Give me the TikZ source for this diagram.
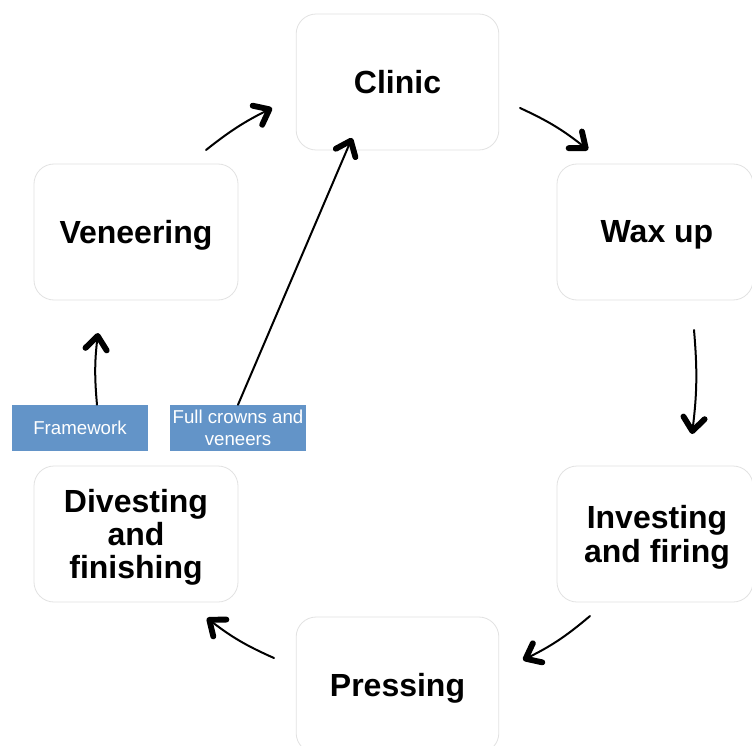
\documentclass[tikz,border=0pt]{standalone}
\usepackage{fontspec}
\setmainfont{Liberation Sans}
\usetikzlibrary{arrows.meta}
\definecolor{boxline}{HTML}{E2E2E2}
\definecolor{tagblue}{HTML}{6394C8}
\begin{document}
\begin{tikzpicture}[x=0.75pt,y=-0.75pt,
  stage/.style={draw=boxline, line width=0.6pt, rounded corners=15pt, fill=white,
    minimum width=152pt, minimum height=102pt, inner sep=0pt},
  stagetxt/.style={align=center, yshift=-2.4pt, inner sep=0pt,
    font=\fontsize{24}{25}\selectfont\bfseries},
  tag/.style={fill=tagblue, text=white, minimum width=102pt, minimum height=34.5pt,
    align=center, font=\fontsize{14}{16.5}\selectfont, inner sep=0pt},
  flow/.style={line width=1.5pt, line cap=round,
    -{Straight Barb[length=10pt,width=16pt,line width=4.4pt,round]}}]
\useasboundingbox[fill=white] (0,0) rectangle (752,745);

\node[stage, label={[stagetxt, yshift=2.2pt]center:Clinic}] (clinic) at (397.5,82) {};
\node[stage, minimum width=147pt, label={[stagetxt, xshift=1.5pt]center:Wax up}] (wax) at (655,232) {};
\node[stage, minimum width=147pt, label={[stagetxt, xshift=1.5pt]center:Investing\\and firing}] (invest) at (655,534) {};
\node[stage, label={[stagetxt]center:Pressing}] (press) at (397.5,685) {};
\node[stage, minimum width=153pt, label={[stagetxt]center:Divesting\\and\\finishing}] (divest) at (136,534) {};
\node[stage, minimum width=153pt, label={[stagetxt]center:Veneering}] (veneer) at (136,232) {};

\node[tag] (frame) at (80,428) {Framework};
\node[tag] (full) at (238,428) {Full crowns and\\veneers};

\coordinate (a1s) at (206,150); \coordinate (a1e) at (272,108);
\coordinate (a2s) at (520,108); \coordinate (a2e) at (588,150);
\coordinate (a3s) at (694,330); \coordinate (a3e) at (692,434);
\coordinate (a4s) at (590,616); \coordinate (a4e) at (523,660);
\coordinate (a5s) at (274,658); \coordinate (a5e) at (207,618);
\coordinate (a6e) at (98,333);
\coordinate (a7e) at (352,138);

\draw[flow] (a1s) to[bend left=6] (a1e);
\draw[flow] (a2s) to[bend left=7] (a2e);
\draw[flow] (a3s) to[bend left=6] (a3e);
\draw[flow] (a4s) to[bend left=7] (a4e);
\draw[flow] (a5s) to[bend left=7] (a5e);
\draw[flow] (frame.north -| 97,0) to[bend left=6] (a6e);
\draw[flow] (full.north) -- (a7e);
\end{tikzpicture}
\end{document}
